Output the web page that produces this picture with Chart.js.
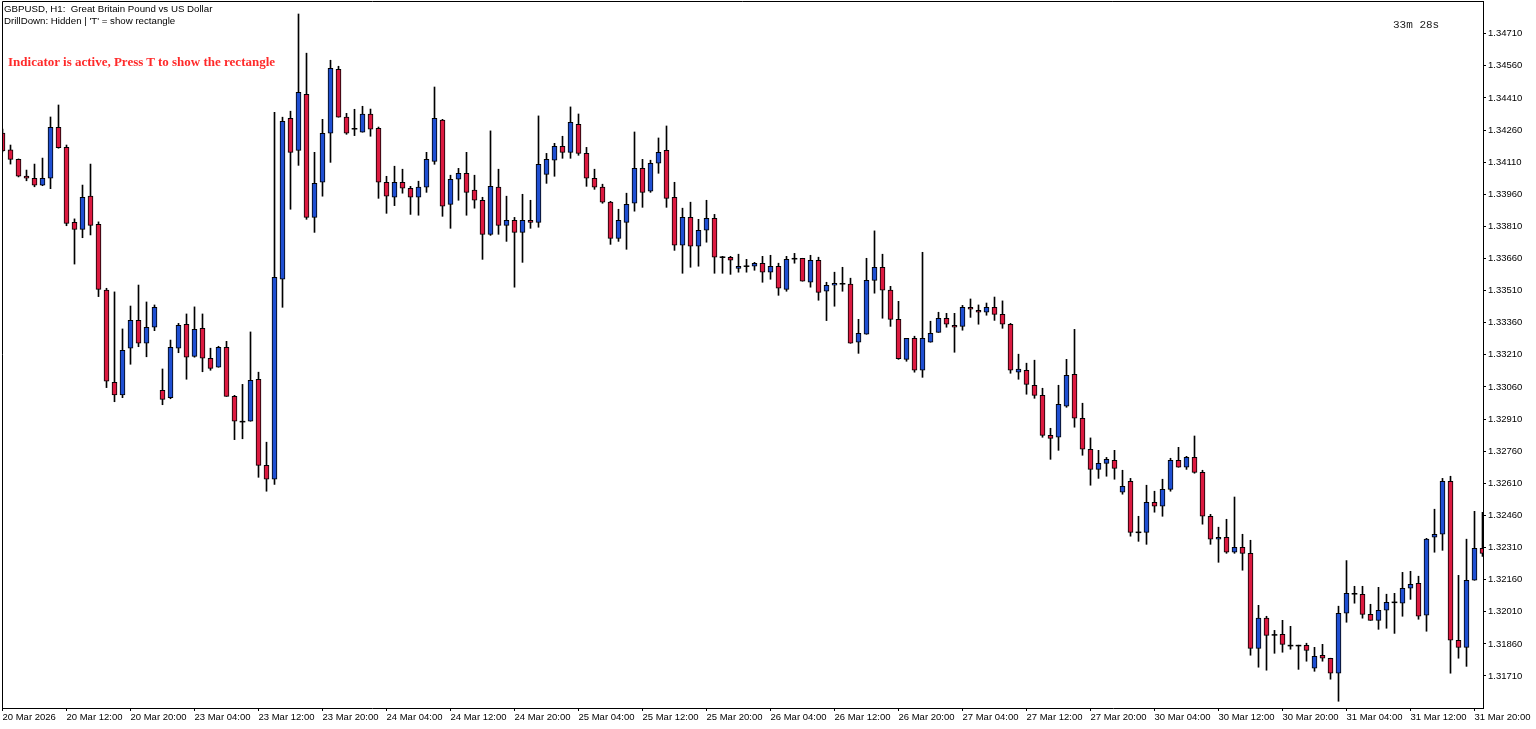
<!DOCTYPE html>
<html>
<head>
<meta charset="utf-8">
<script src="https://cdn.jsdelivr.net/npm/chart.js@4.4.1/dist/chart.umd.min.js"></script>
<style>
    html, body { margin: 0; padding: 0; background: #fff; }
    #wrap { position: relative; width: 1536px; height: 729px; }
    canvas { display: block; }
    .txt { position: absolute; white-space: pre; font-family: "Liberation Sans", Arial, sans-serif; font-size: 9.7px; color: #000; line-height: 11px; }
</style>
</head>
<body>
<div id="wrap">
    <canvas id="chart-area" width="1536" height="729"></canvas>
    <div class="txt" style="left:4px;top:3px">GBPUSD, H1:  Great Britain Pound vs US Dollar</div>
    <div class="txt" style="left:4px;top:15px">DrillDown: Hidden | 'T' = show rectangle</div>
    <div class="txt" style="left:8px;top:54px;font-family:'Liberation Serif',serif;font-weight:bold;font-size:13px;line-height:16px;color:#ff2a2a">Indicator is active, Press T to show the rectangle</div>
    <div class="txt" style="left:1393px;top:18px;font-family:'Liberation Mono',monospace;font-size:11px;line-height:14px;color:#222">33m 28s</div>
</div>
<script>
    // GBPUSD H1, first bar = 20 Mar 04:00
    var opens = [1.34246, 1.34167, 1.34123, 1.34045, 1.34035, 1.34003, 1.34035, 1.34273, 1.34179, 1.33829,
        1.33796, 1.33952, 1.33820, 1.33512, 1.33082, 1.33023, 1.33241, 1.33371, 1.33264, 1.33339,
        1.33044, 1.33010, 1.33241, 1.33353, 1.33203, 1.33334, 1.33194, 1.33152, 1.33245, 1.33016,
        1.32898, 1.32900, 1.33096, 1.32694, 1.32629, 1.33563, 1.34315, 1.34165, 1.34427, 1.33852,
        1.34016, 1.34245, 1.34544, 1.34320, 1.34266, 1.34250, 1.34334, 1.34268, 1.34016, 1.33946,
        1.34016, 1.33988, 1.33946, 1.33993, 1.34114, 1.34306, 1.33913, 1.34030, 1.34058, 1.33979,
        1.33932, 1.33773, 1.33993, 1.33815, 1.33838, 1.33782, 1.33838, 1.33829, 1.34053, 1.34119,
        1.34184, 1.34156, 1.34287, 1.34151, 1.34035, 1.33993, 1.33923, 1.33754, 1.33829, 1.33918,
        1.34081, 1.33974, 1.34105, 1.34165, 1.33946, 1.33722, 1.33852, 1.33717, 1.33792, 1.33848,
        1.33666, 1.33666, 1.33614, 1.33624, 1.33624, 1.33638, 1.33596, 1.33624, 1.33516, 1.33659,
        1.33661, 1.33549, 1.33652, 1.33507, 1.33535, 1.33542, 1.33540, 1.33269, 1.33306, 1.33558,
        1.33619, 1.33512, 1.33376, 1.33189, 1.33287, 1.33138, 1.33269, 1.33315, 1.33381, 1.33348,
        1.33343, 1.33432, 1.33418, 1.33409, 1.33432, 1.33399, 1.33353, 1.33129, 1.33138, 1.33068,
        1.33021, 1.32834, 1.32825, 1.32970, 1.33119, 1.32914, 1.32769, 1.32675, 1.32703, 1.32717,
        1.32568, 1.32619, 1.32381, 1.32381, 1.32521, 1.32503, 1.32582, 1.32717, 1.32685, 1.32731,
        1.32661, 1.32456, 1.32349, 1.32358, 1.32288, 1.32311, 1.32283, 1.31839, 1.31980, 1.31902,
        1.31905, 1.31852, 1.31852, 1.31853, 1.31746, 1.31807, 1.31793, 1.31723, 1.32003, 1.32094,
        1.32092, 1.31998, 1.31970, 1.32017, 1.32054, 1.32050, 1.32120, 1.32143, 1.31994, 1.32358,
        1.32372, 1.32619, 1.31877, 1.31844, 1.32157, 1.32306];
    var highs = [1.34265, 1.34190, 1.34125, 1.34073, 1.34101, 1.34129, 1.34321, 1.34377, 1.34190, 1.33845,
        1.34003, 1.34101, 1.33831, 1.33521, 1.33504, 1.33331, 1.33438, 1.33536, 1.33457, 1.33443,
        1.33144, 1.33279, 1.33357, 1.33401, 1.33434, 1.33401, 1.33241, 1.33250, 1.33273, 1.33021,
        1.33072, 1.33317, 1.33129, 1.32802, 1.34343, 1.34320, 1.34348, 1.34802, 1.34619, 1.34156,
        1.34310, 1.34586, 1.34558, 1.34338, 1.34357, 1.34371, 1.34358, 1.34274, 1.34044, 1.34091,
        1.34077, 1.33997, 1.34021, 1.34156, 1.34461, 1.34310, 1.34049, 1.34081, 1.34156, 1.34049,
        1.33946, 1.34256, 1.34077, 1.33951, 1.33852, 1.33960, 1.33932, 1.34326, 1.34151, 1.34198,
        1.34231, 1.34368, 1.34335, 1.34179, 1.34077, 1.34007, 1.33927, 1.33890, 1.33965, 1.34251,
        1.34123, 1.34119, 1.34223, 1.34279, 1.34016, 1.33895, 1.33923, 1.33843, 1.33932, 1.33866,
        1.33670, 1.33670, 1.33680, 1.33656, 1.33642, 1.33670, 1.33675, 1.33638, 1.33670, 1.33684,
        1.33661, 1.33675, 1.33666, 1.33549, 1.33596, 1.33619, 1.33568, 1.33376, 1.33661, 1.33789,
        1.33680, 1.33530, 1.33460, 1.33287, 1.33297, 1.33689, 1.33367, 1.33409, 1.33404, 1.33404,
        1.33441, 1.33471, 1.33443, 1.33452, 1.33480, 1.33462, 1.33357, 1.33213, 1.33171, 1.33185,
        1.33054, 1.32867, 1.33068, 1.33189, 1.33329, 1.32984, 1.32822, 1.32764, 1.32731, 1.32764,
        1.32671, 1.32633, 1.32456, 1.32601, 1.32573, 1.32629, 1.32727, 1.32778, 1.32736, 1.32831,
        1.32671, 1.32465, 1.32405, 1.32442, 1.32546, 1.32372, 1.32344, 1.32040, 1.31989, 1.31923,
        1.31970, 1.31942, 1.31854, 1.31863, 1.31844, 1.31858, 1.31793, 1.32036, 1.32249, 1.32129,
        1.32129, 1.32045, 1.32124, 1.32092, 1.32096, 1.32194, 1.32199, 1.32176, 1.32353, 1.32489,
        1.32633, 1.32643, 1.32180, 1.32349, 1.32479, 1.32475];
    var lows = [1.34158, 1.34101, 1.34041, 1.34023, 1.33995, 1.34000, 1.33986, 1.34175, 1.33813, 1.33634,
        1.33757, 1.33770, 1.33482, 1.33057, 1.32991, 1.33010, 1.33166, 1.33248, 1.33201, 1.33323,
        1.32977, 1.33005, 1.33220, 1.33096, 1.33199, 1.33131, 1.33138, 1.33152, 1.33016, 1.32814,
        1.32818, 1.32900, 1.32638, 1.32573, 1.32605, 1.33432, 1.33890, 1.34095, 1.33843, 1.33782,
        1.33951, 1.34109, 1.34320, 1.34240, 1.34234, 1.34250, 1.34231, 1.33941, 1.33871, 1.33907,
        1.33965, 1.33866, 1.33862, 1.33969, 1.34100, 1.33857, 1.33801, 1.33932, 1.33862, 1.33895,
        1.33656, 1.33768, 1.33773, 1.33740, 1.33526, 1.33642, 1.33801, 1.33806, 1.34011, 1.34044,
        1.34128, 1.34128, 1.34142, 1.33997, 1.33983, 1.33918, 1.33726, 1.33740, 1.33703, 1.33881,
        1.33899, 1.33969, 1.34058, 1.33899, 1.33698, 1.33591, 1.33619, 1.33624, 1.33736, 1.33591,
        1.33591, 1.33586, 1.33596, 1.33596, 1.33605, 1.33549, 1.33563, 1.33488, 1.33507, 1.33638,
        1.33554, 1.33526, 1.33465, 1.33370, 1.33437, 1.33507, 1.33264, 1.33217, 1.33306, 1.33498,
        1.33381, 1.33343, 1.33189, 1.33180, 1.33129, 1.33105, 1.33269, 1.33315, 1.33339, 1.33222,
        1.33325, 1.33385, 1.33353, 1.33395, 1.33371, 1.33334, 1.33124, 1.33096, 1.33026, 1.33007,
        1.32825, 1.32722, 1.32764, 1.32965, 1.32872, 1.32741, 1.32601, 1.32633, 1.32643, 1.32629,
        1.32559, 1.32363, 1.32339, 1.32325, 1.32475, 1.32456, 1.32573, 1.32685, 1.32675, 1.32657,
        1.32419, 1.32325, 1.32241, 1.32283, 1.32283, 1.32204, 1.31807, 1.31751, 1.31737, 1.31816,
        1.31821, 1.31835, 1.31741, 1.31779, 1.31732, 1.31779, 1.31695, 1.31592, 1.31961, 1.32050,
        1.31980, 1.31970, 1.31928, 1.31933, 1.31909, 1.31989, 1.32068, 1.31975, 1.31919, 1.32288,
        1.32297, 1.31723, 1.31793, 1.31755, 1.32157, 1.32269];
    var closes = [1.34162, 1.34123, 1.34044, 1.34035, 1.34003, 1.34035, 1.34273, 1.34178, 1.33824, 1.33796,
        1.33946, 1.33815, 1.33516, 1.33087, 1.33023, 1.33231, 1.33371, 1.33264, 1.33339, 1.33432,
        1.33002, 1.33245, 1.33348, 1.33199, 1.33329, 1.33194, 1.33147, 1.33245, 1.33016, 1.32900,
        1.32898, 1.33091, 1.32694, 1.32629, 1.33572, 1.34301, 1.34156, 1.34436, 1.33852, 1.34011,
        1.34245, 1.34548, 1.34320, 1.34245, 1.34266, 1.34334, 1.34264, 1.34016, 1.33951, 1.34016,
        1.33988, 1.33946, 1.33993, 1.34123, 1.34315, 1.33904, 1.34030, 1.34058, 1.33969, 1.33932,
        1.33773, 1.33997, 1.33815, 1.33838, 1.33782, 1.33838, 1.33829, 1.34100, 1.34123, 1.34184,
        1.34156, 1.34296, 1.34151, 1.34035, 1.33993, 1.33923, 1.33754, 1.33838, 1.33913, 1.34081,
        1.33969, 1.34105, 1.34156, 1.33941, 1.33722, 1.33852, 1.33717, 1.33792, 1.33848, 1.33666,
        1.33666, 1.33652, 1.33624, 1.33624, 1.33638, 1.33596, 1.33624, 1.33521, 1.33656, 1.33659,
        1.33554, 1.33652, 1.33502, 1.33535, 1.33544, 1.33542, 1.33264, 1.33311, 1.33558, 1.33619,
        1.33512, 1.33376, 1.33192, 1.33287, 1.33138, 1.33287, 1.33311, 1.33381, 1.33353, 1.33339,
        1.33432, 1.33423, 1.33409, 1.33432, 1.33399, 1.33353, 1.33138, 1.33143, 1.33072, 1.33021,
        1.32834, 1.32820, 1.32979, 1.33114, 1.32914, 1.32769, 1.32675, 1.32703, 1.32722, 1.32680,
        1.32596, 1.32381, 1.32381, 1.32521, 1.32503, 1.32582, 1.32717, 1.32685, 1.32731, 1.32661,
        1.32456, 1.32349, 1.32358, 1.32288, 1.32311, 1.32283, 1.31839, 1.31980, 1.31900, 1.31902,
        1.31858, 1.31852, 1.31852, 1.31830, 1.31802, 1.31793, 1.31723, 1.32003, 1.32096, 1.32094,
        1.31998, 1.31970, 1.32017, 1.32054, 1.32054, 1.32120, 1.32138, 1.31989, 1.32349, 1.32372,
        1.32619, 1.31877, 1.31844, 1.32157, 1.32306, 1.32283];

    // time axis labels, one every 8 bars starting at bar 0
    var timeLabels = ['20 Mar 2026', '20 Mar 12:00', '20 Mar 20:00', '23 Mar 04:00', '23 Mar 12:00', '23 Mar 20:00',
        '24 Mar 04:00', '24 Mar 12:00', '24 Mar 20:00', '25 Mar 04:00', '25 Mar 12:00', '25 Mar 20:00',
        '26 Mar 04:00', '26 Mar 12:00', '26 Mar 20:00', '27 Mar 04:00', '27 Mar 12:00', '27 Mar 20:00',
        '30 Mar 04:00', '30 Mar 12:00', '30 Mar 20:00', '31 Mar 04:00', '31 Mar 12:00', '31 Mar 20:00'];
    var labelStep = 8;
    var priceTicks = [1.31710, 1.31860, 1.32010, 1.32160, 1.32310, 1.32460, 1.32610, 1.32760, 1.32910, 1.33060,
        1.33210, 1.33360, 1.33510, 1.33660, 1.33810, 1.33960, 1.34110, 1.34260, 1.34410, 1.34560, 1.34710];

    var bullColor = '#1f4fd2';
    var bearColor = '#dc1a40';

    var bodyData = [], wickData = [], bodyColors = [], bodyBorders = [];
    for (var i = 0; i < opens.length; i++) {
        var o = opens[i], c = closes[i];
        wickData.push({ x: i, y: [lows[i], highs[i]] });
        if (o === c) {
            bodyData.push({ x: i, y: [o - 0.00002, o + 0.00002] });
            bodyColors.push('#000');
            bodyBorders.push(0);
        } else {
            bodyData.push({ x: i, y: [o, c] });
            bodyColors.push(c > o ? bullColor : bearColor);
            bodyBorders.push(1);
        }
    }

    var frame = {
        id: 'frame',
        afterDraw: function (chart) {
            var a = chart.chartArea, ctx = chart.ctx;
            ctx.save();
            ctx.strokeStyle = '#000';
            ctx.lineWidth = 1;
            ctx.beginPath();
            ctx.moveTo(a.left + 0.5, a.bottom);
            ctx.lineTo(a.left + 0.5, a.top + 0.5);
            ctx.lineTo(a.right, a.top + 0.5);
            ctx.stroke();
            ctx.restore();
        }
    };

    var axisFont = { family: '"Liberation Sans", Arial, sans-serif', size: 9.5 };

    var ctx = document.getElementById('chart-area').getContext('2d');
    window.candles = new Chart(ctx, {
        type: 'bar',
        data: {
            datasets: [
                {
                    data: bodyData,
                    backgroundColor: bodyColors,
                    borderColor: '#000',
                    borderWidth: bodyBorders,
                    borderSkipped: false,
                    barThickness: 5,
                    grouped: false,
                    clip: 0
                },
                {
                    data: wickData,
                    backgroundColor: '#000',
                    borderWidth: 0,
                    barThickness: 1,
                    grouped: false,
                    clip: 0
                }
            ]
        },
        options: {
            responsive: false,
            animation: false,
            devicePixelRatio: 1,
            layout: { padding: { left: 2, top: 1, right: 0, bottom: 0 } },
            plugins: { legend: { display: false }, tooltip: { enabled: false } },
            scales: {
                x: {
                    type: 'linear',
                    position: 'bottom',
                    offset: false,
                    min: -0.0625,
                    max: 185.0625,
                    afterBuildTicks: function (s) {
                        s.ticks = timeLabels.map(function (t, j) { return { value: j * labelStep }; });
                    },
                    afterFit: function (s) {
                        s.height = 21;
                        s.paddingLeft = 0; s.paddingRight = 0;
                    },
                    ticks: {
                        autoSkip: false,
                        maxRotation: 0,
                        align: 'start',
                        padding: 1,
                        color: '#000',
                        font: axisFont,
                        callback: function (v) { return timeLabels[Math.round(v / labelStep)]; }
                    },
                    grid: { offset: false, drawOnChartArea: false, drawTicks: true, tickLength: 3, color: '#000' },
                    border: { display: true, color: '#000' }
                },
                y: {
                    type: 'linear',
                    position: 'right',
                    min: 1.315605,
                    max: 1.348627,
                    afterBuildTicks: function (s) {
                        s.ticks = priceTicks.map(function (p) { return { value: p }; });
                    },
                    afterFit: function (s) {
                        s.width = 53;
                        s.paddingTop = 0; s.paddingBottom = 0;
                    },
                    ticks: {
                        padding: 2,
                        color: '#000',
                        font: axisFont,
                        callback: function (v) { return v.toFixed(5); }
                    },
                    grid: { drawOnChartArea: false, drawTicks: true, tickLength: 3, color: '#000' },
                    border: { display: true, color: '#000' }
                }
            }
        },
        plugins: [frame]
    });
</script>
</body>
</html>
